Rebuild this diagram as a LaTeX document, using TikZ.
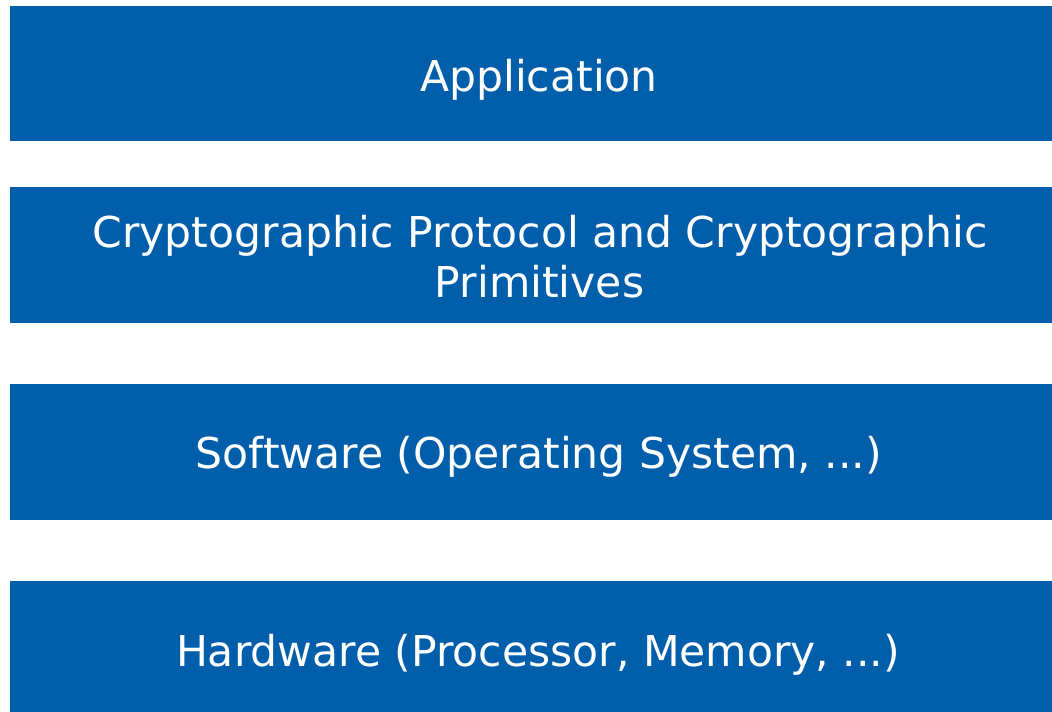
\documentclass[tikz,border=0pt]{standalone}
\usepackage{fontspec}
\setmainfont{DejaVu Sans}
\definecolor{layerblue}{RGB}{0,94,170}
\begin{document}
\begin{tikzpicture}[x=1pt,y=1pt,
  layer/.style={fill=layerblue, draw=none},
  lbl/.style={text=white, anchor=base, inner sep=0pt, font=\fontsize{42.5}{51}\selectfont}]
\useasboundingbox (0,0) rectangle (1052,712);
\fill[white] (0,0) rectangle (1052,712);
\path[layer] (10,571) rectangle (1052,706) node[pos=0.5] (app) {};
\path[layer] (10,389) rectangle (1052,525) node[pos=0.5] (crypto) {};
\path[layer] (10,192) rectangle (1052,328) node[pos=0.5] (sw) {};
\path[layer] (10,0) rectangle (1052,131) node[pos=0.5] (hw) {};
\node[lbl] (t1) at (539,620) {Application};
\node[lbl] (t2a) at (540,464) {Cryptographic Protocol and Cryptographic};
\node[lbl] (t2b) at (539.5,414) {Primitives};
\node[lbl] (t3) at (539,243) {Software (Operating System, ...)};
\node[lbl] (t4) at (538,45) {Hardware (Processor, Memory, ...)};
\end{tikzpicture}
\end{document}
